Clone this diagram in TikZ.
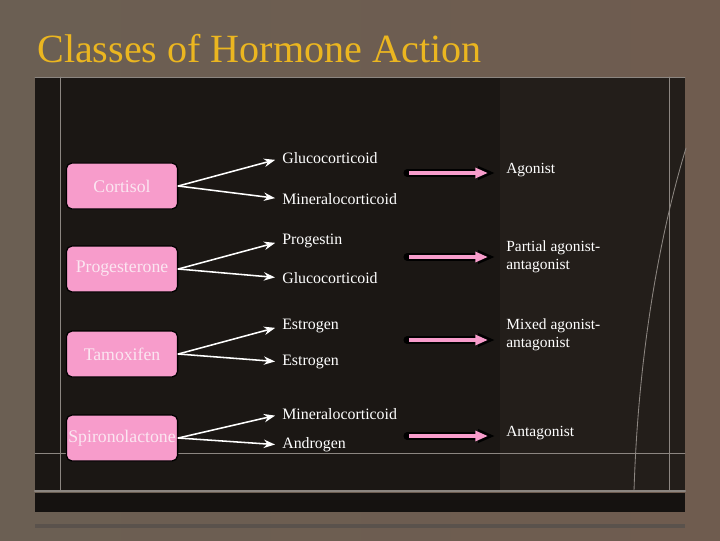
\documentclass[tikz,border=0pt]{standalone}
\usepackage{fontspec}
\setmainfont{Liberation Serif}
\usetikzlibrary{arrows.meta}
\definecolor{bgleft}{HTML}{6B5F53}
\definecolor{bgright}{HTML}{6F5C4F}
\definecolor{panel}{HTML}{1B1714}
\definecolor{panelright}{HTML}{231E1A}
\definecolor{bandblack}{HTML}{151210}
\definecolor{linegray}{HTML}{8C8681}
\definecolor{bottomgray}{HTML}{5A524C}
\definecolor{boxpink}{HTML}{F79CCB}
\definecolor{boxtext}{HTML}{FBE6F1}
\definecolor{titlegold}{HTML}{EBB620}
\begin{document}
\begin{tikzpicture}[x=0.025cm, y=-0.025cm, >=Stealth, line join=round, line cap=round,
	hormone/.style={draw=black, line width=0.9pt, fill=boxpink, rounded corners=4pt, minimum width=2.78cm, minimum height=1.15cm, inner sep=0pt, text=boxtext, font=\rmfamily\fontsize{12.6}{14}\selectfont},
	receptor/.style={anchor=west, inner sep=0pt, text=white, font=\rmfamily\fontsize{11.3}{13}\selectfont},
	action/.style={anchor=west, inner sep=0pt, text=white, align=left, font=\rmfamily\fontsize{11}{12.8}\selectfont},
	bind/.style={->, white, line width=1.1pt, shorten >=5pt},
	panelline/.style={draw=linegray, line width=0.6pt}]
			\useasboundingbox (0,0) rectangle (720,540);
			\shade[left color=bgleft, right color=bgright] (0,0) rectangle (720,540);
			\fill[panel] (35,77) rectangle (685,491);
			\fill[panelright] (500,77) rectangle (685,491);
			\fill[bandblack] (35,493) rectangle (685,512);
			\draw[panelline] (35,77) -- (685,77);
			\foreach \x in {60,669} \draw[panelline] (\x,77) -- (\x,491);
			\draw[panelline] (35,453) -- (685,453);
			\draw[line width=1.5pt, linegray] (35,491) -- (685,491);
			\draw[line width=2.8pt, bottomgray, line cap=butt] (35,526) -- (685,526);
			\draw[panelline] (686,148) .. controls (658,240) and (638,360) .. (634,491);
			\node[anchor=base west, inner sep=0pt, text=titlegold, font=\rmfamily\fontsize{28.5}{30}\selectfont] (title) at (37,62) {Classes of Hormone Action};
			\path
			(122,186) node[hormone] (cort) {Cortisol}
			(122,269) node[hormone] (prog) {Progesterone}
			(122,354) node[hormone] (tamox) {Tamoxifen}
			(122,438) node[hormone] (spiro) {Spironolactone}
			;
			\path
			(282,158) node[receptor] (gluc1) {Glucocorticoid}
			(282,199) node[receptor] (min1) {Mineralocorticoid}
			(282,241) node[receptor] (prog2) {Progestin}
			(282,278) node[receptor] (gluc2) {Glucocorticoid}
			(282,326) node[receptor] (estr3) {Estrogen}
			(282,362) node[receptor] (estr4) {Estrogen}
			(282,414) node[receptor] (min5) {Mineralocorticoid}
			(282,445) node[receptor] (andr5) {Androgen}
			;
			\path
			(506,170) node[action] (agon) {Agonist}
			(506,257) node[action] (part) {Partial agonist-\\antagonist}
			(506,335) node[action] (mixed) {Mixed agonist-\\antagonist}
			(506,433) node[action] (antag) {Antagonist}
			;
			\foreach \h/\a/\b in {cort/gluc1/min1,prog/prog2/gluc2,tamox/estr3/estr4,spiro/min5/andr5} {
				\draw[bind] (\h.east) -- (\a.west);
				\draw[bind] (\h.east) -- (\b.west);
			}
			\foreach \r/\y in {agon/173,part/257,mixed/340,antag/436} {
				\coordinate (t\r) at (407,\y);
				\draw[-{Triangle[length=12pt,width=9pt]}, line width=5pt, black, shorten >=7.8pt] (t\r) -- (t\r -| \r.west);
				\draw[-{Triangle[length=9pt,width=7pt]}, line width=3.4pt, boxpink, line cap=butt, shorten >=12.8pt] ([xshift=1.5pt]t\r) -- (t\r -| \r.west);
			}
\end{tikzpicture}
\end{document}
